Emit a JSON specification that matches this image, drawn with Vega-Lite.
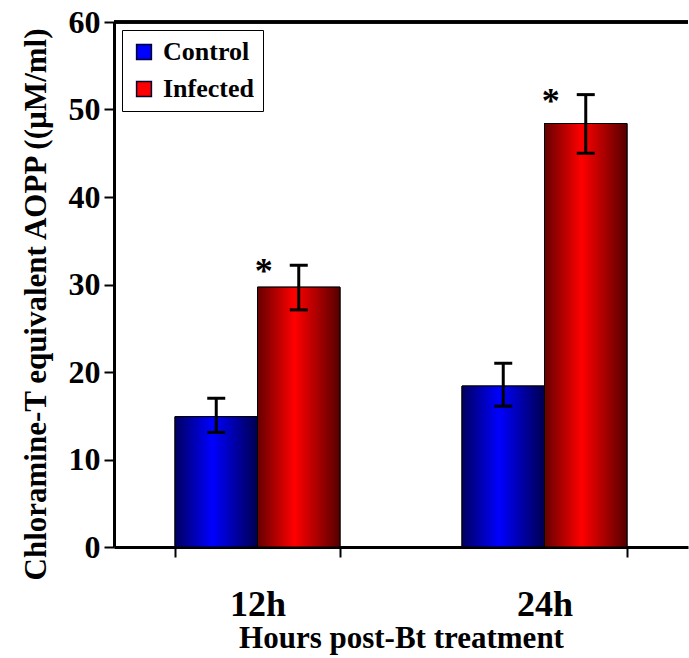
{
  "$schema": "https://vega.github.io/schema/vega-lite/v6.json",
  "autosize": "none",
  "width": 574,
  "height": 525,
  "padding": {"left": 114, "top": 22, "right": 1, "bottom": 111},
  "background": "white",
  "config": {
    "view": {"stroke": null},
    "font": "Liberation Serif",
    "axis": {"labelFont": "Liberation Serif", "titleFont": "Liberation Serif", "labelColor": "black", "titleColor": "black", "domainColor": "black", "tickColor": "black", "grid": false},
    "legend": {"labelFont": "Liberation Serif"}
  },
  "data": {
    "values": [
      {"time": "12h", "group": "Control", "value": 14.9, "lo": 13.1, "hi": 17.0, "sig": ""},
      {"time": "12h", "group": "Infected", "value": 29.7, "lo": 27.1, "hi": 32.2, "sig": "*"},
      {"time": "24h", "group": "Control", "value": 18.4, "lo": 16.1, "hi": 21.0, "sig": ""},
      {"time": "24h", "group": "Infected", "value": 48.4, "lo": 45.0, "hi": 51.7, "sig": "*"}
    ]
  },
  "layer": [
    {
      "mark": {"type": "bar", "stroke": "black", "strokeWidth": 1},
      "encoding": {
        "x": {
          "field": "time", "type": "nominal", "sort": ["12h", "24h"],
          "scale": {"paddingInner": 0.425, "paddingOuter": 0.2125},
          "axis": {
            "title": "Hours post-Bt treatment", "labelAngle": 0, "tickBand": "extent",
            "labelFontSize": 36, "labelFontWeight": "bold", "labelPadding": 30,
            "titleFontSize": 31, "titleFontWeight": "bold", "titlePadding": 1,
            "domainWidth": 3, "tickWidth": 2, "tickSize": 10
          }
        },
        "xOffset": {"field": "group", "type": "nominal", "sort": ["Control", "Infected"], "scale": {"paddingInner": 0, "paddingOuter": 0}},
        "y": {
          "field": "value", "type": "quantitative",
          "scale": {"domain": [0, 60], "nice": false},
          "axis": {
            "title": "Chloramine-T equivalent AOPP ((µM/ml)", "values": [0, 10, 20, 30, 40, 50, 60],
            "labelFontSize": 32, "labelFontWeight": "bold", "labelPadding": 4,
            "titleFontSize": 31, "titleFontWeight": "bold", "titlePadding": 16, "titleY": 282,
            "domainWidth": 3, "tickWidth": 2, "tickSize": 10
          }
        },
        "color": {
          "field": "group", "type": "nominal",
          "scale": {"domain": ["Control", "Infected"], "range": ["#0000ff", "#ff0000"]},
          "legend": {
            "title": null, "orient": "top-left", "offset": 8,
            "strokeColor": "black", "padding": 9,
            "symbolType": "square", "symbolSize": 220, "symbolStrokeColor": "#000033", "symbolStrokeWidth": 1.5,
            "labelFontSize": 26, "labelFontWeight": "bold", "labelColor": "black", "rowPadding": 11, "labelOffset": 6, "symbolOpacity": 1
          }
        }
      }
    },
    {
      "transform": [{"filter": "datum.group === 'Control'"}],
      "mark": {
        "type": "bar", "stroke": "black", "strokeWidth": 1,
        "color": {"gradient": "linear", "x1": 0, "x2": 1, "y1": 0, "y2": 0,
          "stops": [{"offset": 0, "color": "#000060"}, {"offset": 0.45, "color": "#0000ff"}, {"offset": 1, "color": "#000050"}]}
      },
      "encoding": {
        "x": {"field": "time", "type": "nominal", "sort": ["12h", "24h"]},
        "xOffset": {"field": "group", "type": "nominal", "sort": ["Control", "Infected"]},
        "y": {"field": "value", "type": "quantitative"}
      }
    },
    {
      "transform": [{"filter": "datum.group === 'Infected'"}],
      "mark": {
        "type": "bar", "stroke": "black", "strokeWidth": 1,
        "color": {"gradient": "linear", "x1": 0, "x2": 1, "y1": 0, "y2": 0,
          "stops": [{"offset": 0, "color": "#660000"}, {"offset": 0.45, "color": "#ff0000"}, {"offset": 1, "color": "#550000"}]}
      },
      "encoding": {
        "x": {"field": "time", "type": "nominal", "sort": ["12h", "24h"]},
        "xOffset": {"field": "group", "type": "nominal", "sort": ["Control", "Infected"]},
        "y": {"field": "value", "type": "quantitative"}
      }
    },
    {
      "mark": {"type": "rule", "color": "black", "strokeWidth": 3},
      "encoding": {
        "x": {"field": "time", "type": "nominal", "sort": ["12h", "24h"]},
        "xOffset": {"field": "group", "type": "nominal", "sort": ["Control", "Infected"]},
        "y": {"field": "lo", "type": "quantitative"}, "y2": {"field": "hi"}
      }
    },
    {
      "mark": {"type": "tick", "color": "black", "thickness": 3, "size": 18, "opacity": 1},
      "encoding": {
        "x": {"field": "time", "type": "nominal", "sort": ["12h", "24h"]},
        "xOffset": {"field": "group", "type": "nominal", "sort": ["Control", "Infected"]},
        "y": {"field": "lo", "type": "quantitative"}
      }
    },
    {
      "mark": {"type": "tick", "color": "black", "thickness": 3, "size": 18, "opacity": 1},
      "encoding": {
        "x": {"field": "time", "type": "nominal", "sort": ["12h", "24h"]},
        "xOffset": {"field": "group", "type": "nominal", "sort": ["Control", "Infected"]},
        "y": {"field": "hi", "type": "quantitative"}
      }
    },
    {
      "mark": {"type": "text", "fontSize": 36, "fontWeight": "bold", "font": "Liberation Serif", "color": "black", "dx": -35, "dy": 7, "baseline": "middle"},
      "encoding": {
        "x": {"field": "time", "type": "nominal", "sort": ["12h", "24h"]},
        "xOffset": {"field": "group", "type": "nominal", "sort": ["Control", "Infected"]},
        "y": {"field": "hi", "type": "quantitative"}, "text": {"field": "sig"}
      }
    },
    {
      "mark": {"type": "rule", "color": "black", "strokeWidth": 3},
      "encoding": {"y": {"datum": 60}}
    }
  ]
}
